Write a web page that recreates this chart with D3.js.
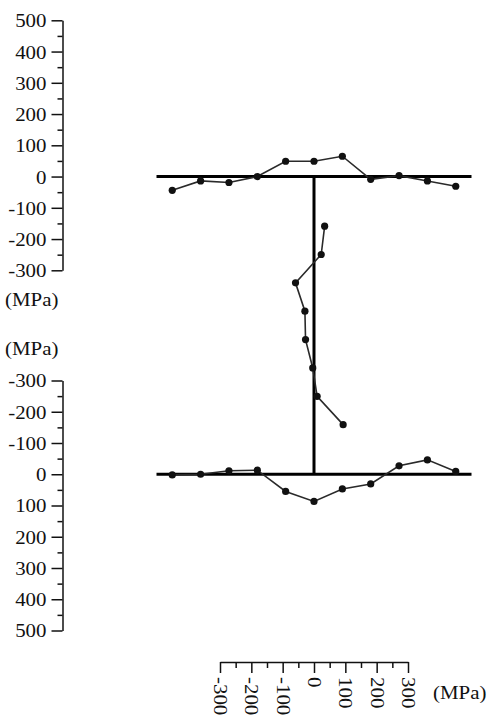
<!DOCTYPE html>
<html>
<head>
<meta charset="utf-8">
<script src="https://cdn.jsdelivr.net/npm/d3@7"></script>
<style>
  html, body { margin: 0; padding: 0; background: #fff; }
  svg { display: block; }
  text { font-family: "Liberation Serif", "Times New Roman", serif; font-size: 19px; fill: #111; }
</style>
</head>
<body>
<script>
// ---- Data ----
// Positions along the flanges (mm from web centre line)
const flangePos = [-90, -72, -54, -36, -18, 0, 18, 36, 54, 72, 90];
// Residual stress on top flange (MPa)
const topFlangeStress = [-44, -14, -19, 0, 49, 49, 65, -9, 3, -14, -31];
// Residual stress on bottom flange (MPa)
const bottomFlangeStress = [2, 0, -11, -13, 55, 87, 47, 31, -27, -46, -9];
// Positions along the web (mm from web mid-height, top to bottom)
const webPos = [-63, -45, -27, -9, 9, 27, 45, 63];
// Residual stress on web (MPa)
const webStress = [34, 23, -59, -29, -27, -4, 10, 93];
// Tick labels
const stressTicks = [-300, -200, -100, 0, 100, 200, 300, 400, 500];
const stressMinor = [-250, -150, -50, 50, 150, 250, 350, 450];
const webTicks = [-300, -200, -100, 0, 100, 200, 300];
const webMinor = [-250, -150, -50, 50, 150, 250];
const unitLabel = "(MPa)";

const W = 496, H = 721;
const svg = d3.select("body").append("svg").attr("width", W).attr("height", H);
const SX = 1.1; // horizontal stretch of the original font
const fmt = d => String(d); // plain hyphen-minus as in the original

// ---- Scales ----
const yTop = d3.scaleLinear().domain([-300, 500]).range([270.3, 20.3]);
const yBot = d3.scaleLinear().domain([-300, 500]).range([380.5, 630.5]);
const xFlange = d3.scaleLinear().domain([-100, 100]).range([156.5, 471.5]);
const yWeb = d3.scaleLinear().domain([-94.5, 94.5]).range([yTop(0), yBot(0)]);
const xWeb = d3.scaleLinear().domain([-300, 300]).range([220, 408]);

const axisX = 62.5;

function leftAxis(scale) {
  const g = svg.append("g").attr("transform", `translate(${axisX},0)`);
  g.call(d3.axisLeft(scale).tickValues(stressTicks).tickSize(11).tickSizeOuter(0).tickFormat(fmt));
  g.append("g").call(d3.axisLeft(scale).tickValues(stressMinor).tickSize(5).tickSizeOuter(0).tickFormat(""))
    .select(".domain").remove();
  g.selectAll(".domain").attr("stroke", "#111").attr("stroke-width", 1.5);
  g.selectAll(".tick line").attr("stroke", "#111").attr("stroke-width", 1.5);
  g.selectAll(".tick text")
    .attr("x", -16 / SX).attr("dy", "0.34em")
    .attr("transform", `scale(${SX},1)`)
    .style("fill", "#111");
  g.attr("font-size", null).attr("font-family", null);
}
leftAxis(yTop);
leftAxis(yBot);

// unit labels on left
svg.append("text").attr("transform", `translate(5,300) scale(${SX},1)`).attr("dy", "0.34em").text(unitLabel);
svg.append("text").attr("transform", `translate(5,349) scale(${SX},1)`).attr("dy", "0.34em").text(unitLabel);

// ---- Bottom axis for web stresses ----
const gb = svg.append("g").attr("transform", "translate(0,662)");
gb.call(d3.axisBottom(xWeb).tickValues(webTicks).tickSize(11).tickSizeOuter(0).tickFormat(fmt));
gb.append("g").call(d3.axisBottom(xWeb).tickValues(webMinor).tickSize(6).tickSizeOuter(0).tickFormat(""))
  .select(".domain").remove();
gb.attr("font-size", null).attr("font-family", null);
gb.selectAll(".domain").attr("stroke", "#111").attr("stroke-width", 1.5);
gb.selectAll(".tick line").attr("stroke", "#111").attr("stroke-width", 1.5);
gb.selectAll(".tick text")
  .attr("y", 0).attr("x", 0).attr("dy", "0.35em")
  .attr("text-anchor", "start")
  .attr("transform", `translate(0,15) rotate(90) scale(${SX},1)`)
  .style("fill", "#111");
svg.append("text").attr("transform", `translate(433,693) scale(${SX},1)`).attr("dy", "0.34em").text(unitLabel);

// ---- Section geometry (I-beam) ----
const geo = svg.append("g").attr("stroke", "#000").attr("stroke-width", 3);
geo.append("line").attr("x1", xFlange(-100)).attr("x2", xFlange(100)).attr("y1", yTop(0)).attr("y2", yTop(0));
geo.append("line").attr("x1", xFlange(-100)).attr("x2", xFlange(100)).attr("y1", yBot(0)).attr("y2", yBot(0));
geo.append("line").attr("x1", xWeb(0)).attr("x2", xWeb(0)).attr("y1", yTop(0)).attr("y2", yBot(0));

// ---- Data series ----
function series(pts) {
  const g = svg.append("g");
  g.append("path").datum(pts)
    .attr("d", d3.line().x(d => d[0]).y(d => d[1]))
    .attr("fill", "none").attr("stroke", "#2a2a2a").attr("stroke-width", 1.6);
  g.selectAll("circle").data(pts).join("circle")
    .attr("cx", d => d[0]).attr("cy", d => d[1]).attr("r", 3.6).attr("fill", "#111");
}
series(flangePos.map((p, i) => [xFlange(p), yTop(topFlangeStress[i])]));
series(flangePos.map((p, i) => [xFlange(p), yBot(bottomFlangeStress[i])]));
series(webPos.map((p, i) => [xWeb(webStress[i]), yWeb(p)]));
</script>
</body>
</html>
